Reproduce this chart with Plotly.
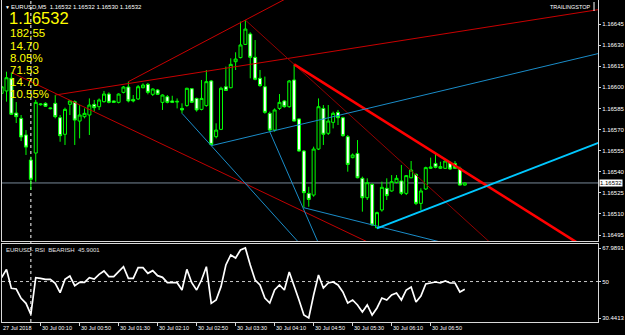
import plotly.graph_objects as go

# ---------------- data ----------------
bar_index = list(range(-6, 90))  # 27 Jul 23:30 ... 30 Jul 07:25 (M5 bars)

open_ = [1.165957, 1.165974, 1.166064, 1.165817, 1.165779, 1.165661,
         1.165483, 1.165533, 1.165876, 1.165886, 1.165848, 1.165886, 1.165784, 1.165666, 1.165879, 1.165898,
         1.165760, 1.165791, 1.165803, 1.165879, 1.165862, 1.165898, 1.165952, 1.165903, 1.165893, 1.165964,
         1.166002, 1.165914, 1.165917, 1.165997, 1.166021, 1.165950, 1.165981, 1.165893, 1.165933, 1.165903,
         1.165895, 1.165850, 1.165870, 1.165990, 1.165921, 1.165843, 1.165870, 1.166045, 1.165649, 1.165701,
         1.166004, 1.165997, 1.166182, 1.166211, 1.166305, 1.166379, 1.166213, 1.166064, 1.166004, 1.165815,
         1.165696, 1.165850, 1.165903, 1.165862, 1.166052, 1.165775, 1.165547, 1.165246, 1.165234, 1.165561,
         1.165850, 1.165673, 1.165751, 1.165822, 1.165784, 1.165649, 1.165500, 1.165530, 1.165353, 1.165215,
         1.165310, 1.165002, 1.165128, 1.165282, 1.165263, 1.165324, 1.165334, 1.165246, 1.165357, 1.165381,
         1.165175, 1.165277, 1.165424, 1.165459, 1.165424, 1.165424, 1.165464, 1.165459, 1.165424, 1.165305]
high_ = [1.166052, 1.166111, 1.166106, 1.165895, 1.165803, 1.165696,
         1.165507, 1.165910, 1.165886, 1.165893, 1.165856, 1.165945, 1.165803, 1.165855, 1.165910, 1.165907,
         1.165874, 1.165850, 1.165921, 1.165910, 1.165921, 1.165974, 1.165964, 1.165906, 1.165957, 1.166009,
         1.166040, 1.165945, 1.166016, 1.166028, 1.166031, 1.165993, 1.165988, 1.165950, 1.165945, 1.165940,
         1.165921, 1.165886, 1.165997, 1.165995, 1.165926, 1.166052, 1.166123, 1.166052, 1.165744, 1.166004,
         1.166147, 1.166206, 1.166249, 1.166467, 1.166478, 1.166391, 1.166336, 1.166123, 1.166076, 1.165827,
         1.165850, 1.165952, 1.165910, 1.166052, 1.166163, 1.165779, 1.165554, 1.165293, 1.165578, 1.165921,
         1.165874, 1.165874, 1.165827, 1.165839, 1.165791, 1.165661, 1.165530, 1.165625, 1.165365, 1.165353,
         1.165317, 1.165116, 1.165329, 1.165353, 1.165376, 1.165376, 1.165448, 1.165376, 1.165476, 1.165388,
         1.165282, 1.165436, 1.165500, 1.165530, 1.165471, 1.165483, 1.165471, 1.165476, 1.165436, 1.165324]
low_ = [1.165910, 1.165898, 1.165803, 1.165746, 1.165618, 1.165519,
        1.165270, 1.165329, 1.165870, 1.165860, 1.165843, 1.165779, 1.165613, 1.165590, 1.165803, 1.165590,
        1.165637, 1.165779, 1.165661, 1.165827, 1.165839, 1.165891, 1.165886, 1.165890, 1.165886, 1.165957,
        1.165893, 1.165893, 1.165910, 1.165993, 1.165950, 1.165938, 1.165945, 1.165839, 1.165886, 1.165888,
        1.165850, 1.165815, 1.165862, 1.165888, 1.165827, 1.165836, 1.165862, 1.165585, 1.165637, 1.165696,
        1.165974, 1.165993, 1.166123, 1.166206, 1.166301, 1.166064, 1.166050, 1.166004, 1.165812, 1.165684,
        1.165684, 1.165839, 1.165855, 1.165855, 1.165756, 1.165542, 1.165144, 1.165151, 1.165222, 1.165554,
        1.165590, 1.165661, 1.165708, 1.165732, 1.165649, 1.165400, 1.165495, 1.165353, 1.165116, 1.165199,
        1.165016, 1.164997, 1.165116, 1.165199, 1.165258, 1.165317, 1.165234, 1.165234, 1.165353, 1.165163,
        1.165128, 1.165270, 1.165419, 1.165424, 1.165419, 1.165419, 1.165412, 1.165419, 1.165301, 1.165301]
close_ = [1.166004, 1.166068, 1.165808, 1.165791, 1.165647, 1.165575,
          1.165346, 1.165893, 1.165881, 1.165865, 1.165852, 1.165791, 1.165656, 1.165843, 1.165903, 1.165767,
          1.165803, 1.165815, 1.165874, 1.165855, 1.165910, 1.165952, 1.165893, 1.165893, 1.165952, 1.166002,
          1.165903, 1.165903, 1.166004, 1.166016, 1.165964, 1.165988, 1.165950, 1.165945, 1.165893, 1.165893,
          1.165900, 1.165839, 1.165993, 1.165893, 1.165839, 1.165921, 1.166040, 1.165594, 1.165696, 1.165993,
          1.165978, 1.166163, 1.166201, 1.166301, 1.166414, 1.166213, 1.166057, 1.166012, 1.165822, 1.165696,
          1.165839, 1.165893, 1.165862, 1.166045, 1.165760, 1.165547, 1.165251, 1.165203, 1.165561, 1.165862,
          1.165666, 1.165760, 1.165815, 1.165784, 1.165656, 1.165452, 1.165519, 1.165357, 1.165215, 1.165322,
          1.165021, 1.165109, 1.165289, 1.165230, 1.165329, 1.165353, 1.165246, 1.165372, 1.165412, 1.165175,
          1.165263, 1.165429, 1.165433, 1.165431, 1.165436, 1.165476, 1.165419, 1.165424, 1.165305, 1.165320]

rsi = [52.07, 56.54, 46.35, 45.99, 40.99, 38.31,
       32.41, 52.07, 51.72, 51.18, 51.18, 49.03, 44.03, 51.18, 52.97, 47.78,
       49.57, 49.57, 52.07, 51.36, 53.86, 55.65, 52.61, 52.61, 55.29, 57.97,
       51.72, 51.72, 57.44, 57.44, 54.40, 55.83, 53.15, 52.25, 49.39, 49.39,
       49.39, 45.46, 56.54, 49.39, 45.46, 50.82, 57.97, 38.31, 40.09, 47.25,
       58.87, 64.24, 62.63, 66.92, 67.99, 58.87, 50.83, 48.14, 41.17, 38.49,
       45.46, 48.14, 45.46, 55.12, 48.14, 40.10, 32.05, 30.44, 42.78, 53.51,
       46.53, 49.22, 49.75, 48.14, 44.39, 38.49, 40.10, 37.42, 33.66, 37.42,
       32.05, 35.81, 41.17, 40.10, 42.78, 43.85, 40.10, 45.46, 47.07, 39.03,
       42.24, 48.68, 49.22, 49.75, 49.22, 50.29, 49.22, 49.22, 44.39, 45.90]

tick_bars = [-6, 2, 10, 18, 26, 34, 42, 50, 58, 66, 74, 82]
tick_labels = ["27 Jul 2018", "30 Jul 00:10", "30 Jul 00:50", "30 Jul 01:30", "30 Jul 02:10",
               "30 Jul 02:50", "30 Jul 03:30", "30 Jul 04:10", "30 Jul 04:50", "30 Jul 05:30",
               "30 Jul 06:10", "30 Jul 06:50"]
price_ticks = [1.16495, 1.16510, 1.16525, 1.16540, 1.16555, 1.16570, 1.16585,
               1.16600, 1.16615, 1.16630, 1.16645]
rsi_ticks = [30.4413, 50, 67.9891]
rsi_tick_labels = ["30.4413", "50", "67.9891"]
bid_price = 1.16532
day_separator_bar = 0

header_text = "EURUSD,M5  1.16532 1.16532 1.16530 1.16532"
big_price_text = "1.16532"
info_texts = ["182.55", "14.70", "8.05%", "71.53", "14.70", "10.55%"]
rsi_title = "EURUSD- RSI  BEARISH  45.9001"
button_text = "TRAILINGSTOP"

# trend lines: (bar, price) anchor pairs, extended as rays to end bar
line_red_flat = [(5, 1.165945), (116, 1.166550)]
line_red_steep = [(20, 1.166040), (44, 1.166478)]
line_red_down = [(-4, 1.166106), (40, 1.165380)]
line_red_peak = [(44, 1.166478), (54, 1.166163)]
line_red_thick = [(54, 1.166163), (83, 1.165530)]
line_blue_a = [(31, 1.165815), (37, 1.165585)]
line_blue_b = [(37, 1.165585), (49, 1.165684)]
line_blue_c = [(49, 1.165684), (58, 1.164970)]
line_blue_e = [(56, 1.165144), (76, 1.164970)]
line_cyan_thick = [(71, 1.164997), (116, 1.165600)]
ray_ends = [117, 70, 90, 110, 130, 60, 130, 70, 110, 130]

# ---------------- geometry ----------------
W, H = 625, 335
ML, MR = 2, 24
PW = W - ML - MR


def xp(px):
    return (px - ML) / PW


def yp(py):
    return (H - py) / H


X_RANGE = [-5.92, 116.33]
Y_RANGE = [1.1649074, 1.1666206]
RSI_RANGE = [28.295, 70.135]
MAIN_DOM = [yp(241), 1.0]
RSI_DOM = [yp(322), yp(244)]

FONT = "Liberation Sans, Arial, sans-serif"
FRAME = "#d8d8d8"

fig = go.Figure()

# trend lines
styles = [
    dict(color="#c80000", width=1),
    dict(color="#c80000", width=1),
    dict(color="#c00000", width=1),
    dict(color="#900000", width=1),
    dict(color="#ff0000", width=2.6),
    dict(color="#1a8cc8", width=1),
    dict(color="#1a8cc8", width=1),
    dict(color="#1a8cc8", width=1),
    dict(color="#1a8cc8", width=1),
    dict(color="#00c8ff", width=2),
]
lines = [line_red_flat, line_red_steep, line_red_down, line_red_peak, line_red_thick,
         line_blue_a, line_blue_b, line_blue_c, line_blue_e, line_cyan_thick]
for (a, b), end, st in zip(lines, ray_ends, styles):
    slope = (b[1] - a[1]) / (b[0] - a[0])
    fig.add_trace(go.Scatter(x=[a[0], end], y=[a[1], a[1] + slope * (end - a[0])],
                             mode="lines", line=st, hoverinfo="skip", showlegend=False,
                             xaxis="x", yaxis="y"))

fig.add_trace(go.Candlestick(
    x=bar_index, open=open_, high=high_, low=low_, close=close_,
    increasing=dict(line=dict(color="#00ff00", width=1), fillcolor="#000000"),
    decreasing=dict(line=dict(color="#00ff00", width=1), fillcolor="#ffffff"),
    whiskerwidth=0, showlegend=False, xaxis="x", yaxis="y"))

fig.add_trace(go.Scatter(x=bar_index, y=rsi, mode="lines",
                         line=dict(color="#ffffff", width=1.7),
                         hoverinfo="skip", showlegend=False, xaxis="x2", yaxis="y2"))

shapes = [
    dict(type="line", xref="paper", yref="y", x0=0, x1=1, y0=bid_price, y1=bid_price,
         line=dict(color="#778899", width=1), layer="below"),
    dict(type="line", xref="paper", yref="y2", x0=0, x1=1, y0=50, y1=50,
         line=dict(color="#c8c8c8", width=1, dash="dot"), layer="below"),
    dict(type="line", xref="x", yref="paper", x0=day_separator_bar, x1=day_separator_bar,
         y0=RSI_DOM[0], y1=1, line=dict(color="#ffffff", width=1, dash="dot"), layer="below"),
    dict(type="line", xref="paper", yref="paper", x0=xp(597), x1=xp(597), y0=yp(2), y1=yp(11),
         line=dict(color="#ffffff", width=1)),
]

ann = []
ann.append(dict(text="▼", x=xp(3), y=yp(7), xref="paper", yref="paper", xanchor="left",
                yanchor="middle", showarrow=False, font=dict(family=FONT, size=5, color="#ffffff")))
ann.append(dict(text=header_text, x=xp(9), y=yp(7), xref="paper", yref="paper", xanchor="left",
                yanchor="middle", showarrow=False, font=dict(family=FONT, size=6, color="#ffffff")))
ann.append(dict(text=button_text, x=xp(596), y=yp(7), xref="paper", yref="paper", xanchor="right",
                yanchor="middle", showarrow=False, font=dict(family=FONT, size=5.5, color="#ffffff")))
ann.append(dict(text=big_price_text, x=xp(7), y=yp(18), xref="paper", yref="paper", xanchor="left",
                yanchor="middle", showarrow=False, font=dict(family=FONT, size=16.5, color="#ffff00")))
for k, t in enumerate(info_texts):
    ann.append(dict(text=t, x=xp(8), y=yp(33.3 + 12.2 * k), xref="paper", yref="paper",
                    xanchor="left", yanchor="middle", showarrow=False,
                    font=dict(family=FONT, size=11.5, color="#ffff00")))
ann.append(dict(text=rsi_title, x=xp(4), y=yp(249.5), xref="paper", yref="paper", xanchor="left",
                yanchor="middle", showarrow=False, font=dict(family=FONT, size=6, color="#e0e0e0")))
for tb, tl in zip(tick_bars, tick_labels):
    # label left edge sits at its bar; a bar left of the visible range is pinned to the frame
    px = max(tb, X_RANGE[0])
    ann.append(dict(text=tl, x=(px - X_RANGE[0]) / (X_RANGE[1] - X_RANGE[0]), y=yp(328),
                    xref="paper", yref="paper", xanchor="left",
                    yanchor="middle", xshift=-1, showarrow=False,
                    font=dict(family=FONT, size=5.5, color="#ffffff")))
ann.append(dict(text="%.5f" % bid_price, x=1, y=bid_price, xref="paper", yref="y", xanchor="left",
                yanchor="middle", xshift=1, showarrow=False, bgcolor="#ffffff", borderpad=0,
                font=dict(family=FONT, size=6, color="#000000")))

fig.update_layout(
    width=W, height=H, margin=dict(l=ML, r=MR, t=0, b=0, pad=0),
    paper_bgcolor="#000000", plot_bgcolor="#000000",
    showlegend=False, hovermode=False, boxgap=0.12,
    xaxis=dict(domain=[0, 1], range=X_RANGE, anchor="y", showgrid=False, zeroline=False,
               showline=True, linecolor=FRAME, linewidth=1, showticklabels=False, ticks="",
               rangeslider=dict(visible=False), fixedrange=True),
    yaxis=dict(domain=MAIN_DOM, range=Y_RANGE, side="right", showgrid=False, zeroline=False,
               showline=True, mirror=True, linecolor=FRAME, linewidth=1,
               ticks="outside", ticklen=2, tickcolor=FRAME, tickvals=price_ticks,
               ticktext=["%.5f" % v for v in price_ticks],
               tickfont=dict(family=FONT, size=6, color="#ffffff"), fixedrange=True),
    xaxis2=dict(domain=[0, 1], range=X_RANGE, anchor="y2", matches="x", showgrid=False,
                zeroline=False, showline=True, mirror=True, linecolor=FRAME, linewidth=1,
                ticks="outside", ticklen=3, tickcolor=FRAME, tickvals=tick_bars,
                showticklabels=False, fixedrange=True),
    yaxis2=dict(domain=RSI_DOM, range=RSI_RANGE, anchor="x2", side="right", showgrid=False,
                zeroline=False, showline=True, mirror=True, linecolor=FRAME, linewidth=1,
                ticks="outside", ticklen=2, tickcolor=FRAME, tickvals=rsi_ticks,
                ticktext=rsi_tick_labels,
                tickfont=dict(family=FONT, size=6, color="#ffffff"), fixedrange=True),
    shapes=shapes, annotations=ann,
)

fig.write_html("out.html")
